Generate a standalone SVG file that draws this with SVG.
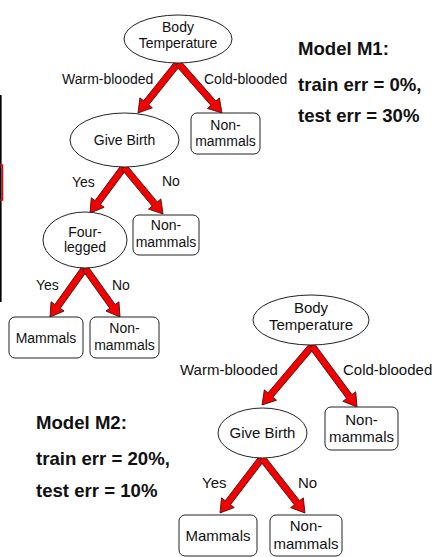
<svg xmlns="http://www.w3.org/2000/svg" width="437" height="557" viewBox="0 0 437 557">
  <style>
    .node { fill: #fff; stroke: #222; stroke-width: 1; }
    .t14 { font-family: "Liberation Sans", Arial, sans-serif; font-size: 14px; fill: #111; text-anchor: middle; }
    .t15 { font-family: "Liberation Sans", Arial, sans-serif; font-size: 15px; fill: #111; text-anchor: middle; }
    .lbl14 { font-family: "Liberation Sans", Arial, sans-serif; font-size: 14px; fill: #111; }
    .lbl15 { font-family: "Liberation Sans", Arial, sans-serif; font-size: 15px; fill: #111; }
    .model { font-family: "Liberation Sans", Arial, sans-serif; font-size: 18.6px; font-weight: bold; fill: #111; }
    .arrow { fill: #f50000; stroke: #3a1010; stroke-width: 0.8; stroke-linejoin: miter; }
  </style>

  <rect width="437" height="557" fill="#fff"/>

  <!-- edge marks on the left -->
  <line x1="0.8" y1="95" x2="0.8" y2="302" stroke="#000" stroke-width="1.6"/>
  <rect x="-10" y="165" width="12.5" height="35" fill="none" stroke="#e00000" stroke-width="1.5"/>

  <!-- connectors -->
  <g id="connectors">
    <!-- tree M1 -->
    <polygon class="arrow" transform="translate(178 63) rotate(128.66)" points="0,-3.3 51,-3.3 51,-8 64,0 51,8 51,3.3 0,3.3"/>
    <polygon class="arrow" transform="translate(178 63) rotate(48.65)" points="0,-3.3 53.6,-3.3 53.6,-8 66.6,0 53.6,8 53.6,3.3 0,3.3"/>
    <polygon class="arrow" transform="translate(124 167) rotate(126.47)" points="0,-3.3 44.2,-3.3 44.2,-8 57.2,0 44.2,8 44.2,3.3 0,3.3"/>
    <polygon class="arrow" transform="translate(124 167) rotate(50.31)" points="0,-3.3 48.1,-3.3 48.1,-8 61.1,0 48.1,8 48.1,3.3 0,3.3"/>
    <polygon class="arrow" transform="translate(85 268) rotate(125.54)" points="0,-3.3 47.2,-3.3 47.2,-8 60.2,0 47.2,8 47.2,3.3 0,3.3"/>
    <polygon class="arrow" transform="translate(85 268) rotate(54.46)" points="0,-3.3 47.2,-3.3 47.2,-8 60.2,0 47.2,8 47.2,3.3 0,3.3"/>
    <!-- tree M2 -->
    <polygon class="arrow" transform="translate(312 346) rotate(130.28)" points="0,-3.3 64.3,-3.3 64.3,-8 77.3,0 64.3,8 64.3,3.3 0,3.3"/>
    <polygon class="arrow" transform="translate(312 346) rotate(53.58)" points="0,-3.3 62.8,-3.3 62.8,-8 75.8,0 62.8,8 62.8,3.3 0,3.3"/>
    <polygon class="arrow" transform="translate(262 458) rotate(127.37)" points="0,-3.3 56.2,-3.3 56.2,-8 69.2,0 56.2,8 56.2,3.3 0,3.3"/>
    <polygon class="arrow" transform="translate(262 458) rotate(51.98)" points="0,-3.3 56.8,-3.3 56.8,-8 69.8,0 56.8,8 56.8,3.3 0,3.3"/>
  </g>

  <!-- edge labels -->
  <g id="edge-labels">
    <text class="lbl14" x="62" y="84">Warm-blooded</text>
    <text class="lbl14" x="204" y="84">Cold-blooded</text>
    <text class="lbl14" x="72" y="187">Yes</text>
    <text class="lbl14" x="162" y="186">No</text>
    <text class="lbl14" x="36" y="290">Yes</text>
    <text class="lbl14" x="112" y="290">No</text>
    <text class="lbl15" x="180" y="375">Warm-blooded</text>
    <text class="lbl15" x="343" y="375">Cold-blooded</text>
    <text class="lbl15" x="202" y="488">Yes</text>
    <text class="lbl15" x="298" y="488">No</text>
  </g>

  <!-- tree M1 nodes -->
  <g id="m1-body-temperature">
    <ellipse class="node" cx="178" cy="39" rx="54" ry="24"/>
    <text class="t14" x="178" y="32">Body</text>
    <text class="t14" x="178" y="48">Temperature</text>
  </g>
  <g id="m1-give-birth">
    <ellipse class="node" cx="124.5" cy="140" rx="54.5" ry="27"/>
    <text class="t14" x="124.5" y="145">Give Birth</text>
  </g>
  <g id="m1-non-mammals-1">
    <rect class="node" x="191" y="113" width="69" height="41" rx="6"/>
    <text class="t14" x="225.5" y="130">Non-</text>
    <text class="t14" x="225.5" y="146">mammals</text>
  </g>
  <g id="m1-four-legged">
    <ellipse class="node" cx="85" cy="240" rx="42" ry="28"/>
    <text class="t14" x="85" y="237">Four-</text>
    <text class="t14" x="85" y="252">legged</text>
  </g>
  <g id="m1-non-mammals-2">
    <rect class="node" x="133" y="215" width="66" height="40" rx="6"/>
    <text class="t14" x="166" y="230">Non-</text>
    <text class="t14" x="166" y="247">mammals</text>
  </g>
  <g id="m1-mammals">
    <rect class="node" x="9" y="317" width="74" height="41" rx="6"/>
    <text class="t14" x="46" y="343">Mammals</text>
  </g>
  <g id="m1-non-mammals-3">
    <rect class="node" x="90" y="317" width="69" height="41" rx="6"/>
    <text class="t14" x="124.5" y="333">Non-</text>
    <text class="t14" x="124.5" y="350">mammals</text>
  </g>

  <!-- tree M2 nodes -->
  <g id="m2-body-temperature">
    <ellipse class="node" cx="311" cy="320" rx="58" ry="25"/>
    <text class="t15" x="311" y="313">Body</text>
    <text class="t15" x="311" y="330">Temperature</text>
  </g>
  <g id="m2-give-birth">
    <ellipse class="node" cx="262.5" cy="433" rx="44.5" ry="25"/>
    <text class="t15" x="262.5" y="438">Give Birth</text>
  </g>
  <g id="m2-non-mammals-1">
    <rect class="node" x="325" y="407" width="73" height="43" rx="6"/>
    <text class="t15" x="361.5" y="425">Non-</text>
    <text class="t15" x="361.5" y="442">mammals</text>
  </g>
  <g id="m2-mammals">
    <rect class="node" x="179" y="515" width="78" height="41" rx="6"/>
    <text class="t15" x="218" y="541">Mammals</text>
  </g>
  <g id="m2-non-mammals-2">
    <rect class="node" x="270" y="515" width="72" height="41" rx="6"/>
    <text class="t15" x="306" y="531">Non-</text>
    <text class="t15" x="306" y="549">mammals</text>
  </g>

  <!-- model summaries -->
  <g id="model-m1">
    <text class="model" x="298" y="55">Model M1:</text>
    <text class="model" x="298" y="91">train err = 0%,</text>
    <text class="model" x="298" y="122">test err = 30%</text>
  </g>
  <g id="model-m2">
    <text class="model" x="36" y="429">Model M2:</text>
    <text class="model" x="36" y="465">train err = 20%,</text>
    <text class="model" x="36" y="497">test err = 10%</text>
  </g>
</svg>
